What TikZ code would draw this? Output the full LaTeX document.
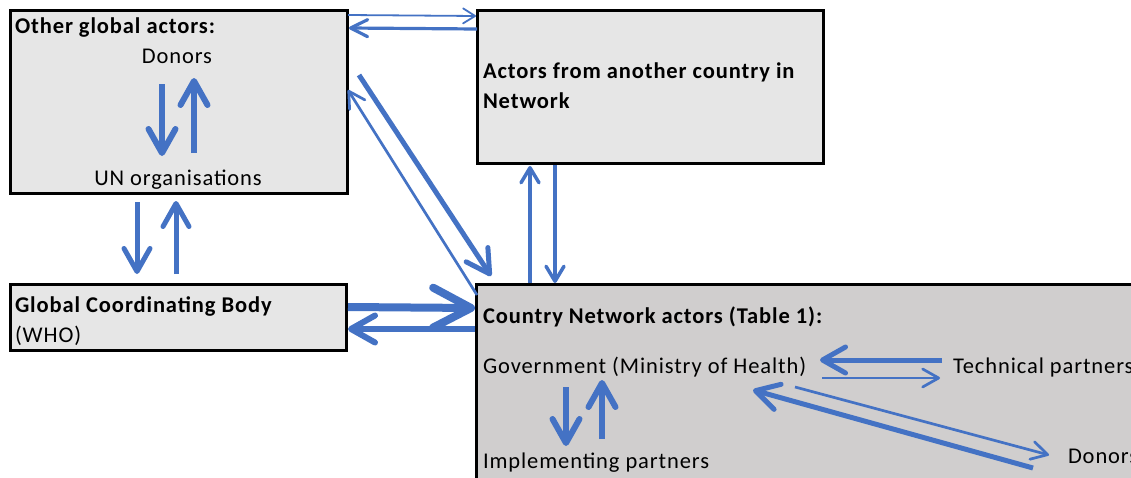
\documentclass[tikz,border=0pt]{standalone}
\usepackage{fontspec}
\setmainfont{Carlito}[LetterSpace=4.0]
\usetikzlibrary{arrows.meta,calc}
\definecolor{ablue}{HTML}{4472C4}
\definecolor{lgray}{HTML}{E6E6E6}
\definecolor{dgray}{HTML}{D0CECE}
\tikzset{
  box/.style={draw=black, line width=3pt, fill=lgray, anchor=north west, inner sep=0pt, outer sep=0pt},
  txt/.style={inner sep=0pt, outer sep=0pt, anchor=base west, font=\fontsize{22.5}{26}\selectfont},
  txtc/.style={txt, anchor=base},
  conn/.style={draw=ablue},
  wA/.style={conn, line width=1.8pt, -{Straight Barb[length=12pt,width=15pt,round]}},
  wB/.style={conn, line width=2.7pt, -{Straight Barb[length=16pt,width=18pt,round]}},
  wC/.style={conn, line width=3.2pt, -{Straight Barb[length=17pt,width=17pt,round]}},
  wD/.style={conn, line width=3.5pt, -{Straight Barb[length=15pt,width=18pt,round]}},
  wE/.style={conn, line width=5pt, -{Straight Barb[length=23pt,width=26pt,round]}},
  wF/.style={conn, line width=6pt, -{Straight Barb[length=24pt,width=27pt,round]}},
  wG/.style={conn, line width=8pt, -{Straight Barb[length=38pt,width=40pt,round]}},
}
\begin{document}
\begin{tikzpicture}[x=1pt,y=-1pt]
\useasboundingbox (0,0) rectangle (1131,477);
\fill[white] (0,0) rectangle (1131,477);
\clip (0,0) rectangle (1131,477);
% boxes
\node[box, minimum width=337pt, minimum height=183pt] (b1) at (10,10) {};
\node[box, minimum width=346pt, minimum height=153pt] (b2) at (477,10) {};
\node[box, minimum width=336pt, minimum height=66pt] (b3) at (10,284) {};
\node[box, fill=dgray, minimum width=700pt, minimum height=230pt] (b4) at (476,284) {};
% texts
\node[txt] (t1) at (15,33) {\bfseries Other global actors:};
\node[txtc] (don1) at (177,63) {Donors};
\node[txtc] (un) at (178,185) {UN organisations};
\node[txt] (t2a) at (483,78) {\bfseries Actors from another country in};
\node[txt] (t2b) at (483,108) {\bfseries Network};
\node[txt] (t3a) at (15,312) {\bfseries Global Coordinating Body};
\node[txt] (t3b) at (15,342) {(WHO)};
\node[txt] (t4) at (483,323) {\bfseries Country Network actors (Table 1):};
\node[txt] (gov) at (483,373) {Government (Ministry of Health)};
\node[txt] (tech) at (953,373) {Technical partners};
\node[txt] (impl) at (483,468) {Implementing partners};
\node[txt] (don2) at (1068,463) {Donors};
% box1 <-> box2
\draw[wA] ($(b1.north east)+(1,5)$) -- ($(b2.north west)+(-1,6)$);
\draw[wC] ($(b2.north west)+(0,19)$) -- ($(b1.north east)+(2,18)$);
% box1 <-> box4
\draw[wE] ($(b1.north east)+(12,65)$) -- ($(b4.north west)+(15,-8)$);
\draw[wB] ($(b4.north west)+(1,11)$) -- ($(b1.north east)+(1,80)$);
% box2 <-> box4
\draw[wD] ($(b2.south west)+(78,2)$) -- ($(b4.north west)+(79,-1)$);
\draw[wD] ($(b4.north west)+(54,-1)$) -- ($(b2.south west)+(53,3)$);
% box3 <-> box4
\draw[wG] ($(b3.north east)+(2,23)$) -- ($(b4.north west)+(-1,24)$);
\draw[wF] ($(b4.north west)+(-1,45)$) -- ($(b3.north east)+(2,45)$);
% box1 <-> box3
\draw[wE] ($(b1.south west)+(127,9)$) -- ($(b3.north west)+(127,-10)$);
\draw[wE] ($(b3.north west)+(166,-10)$) -- ($(b1.south west)+(166,8)$);
% donors <-> UN
\draw[wF] ($(don1.base)+(-15,21)$) -- ($(un.base)+(-16,-29)$);
\draw[wF] ($(un.base)+(16,-32)$) -- ($(don1.base)+(17,15)$);
% government <-> implementing
\draw[wF] ($(gov.base west)+(83,14)$) -- ($(impl.base west)+(83,-22)$);
\draw[wF] ($(impl.base west)+(119,-29)$) -- ($(gov.base west)+(119,7)$);
% government <-> technical
\draw[wE] ($(tech.base west)+(-11,-13)$) -- ($(gov.base west)+(337,-13)$);
\draw[wB] ($(gov.base west)+(339,5)$) -- ($(tech.base west)+(-13,5)$);
% government <-> donors
\draw[wB] ($(gov.base west)+(312,14)$) -- ($(don2.base west)+(-19,-8)$);
\draw[wE] ($(don2.base west)+(-35,5)$) -- ($(gov.base west)+(270,17)$);
\end{tikzpicture}
\end{document}
